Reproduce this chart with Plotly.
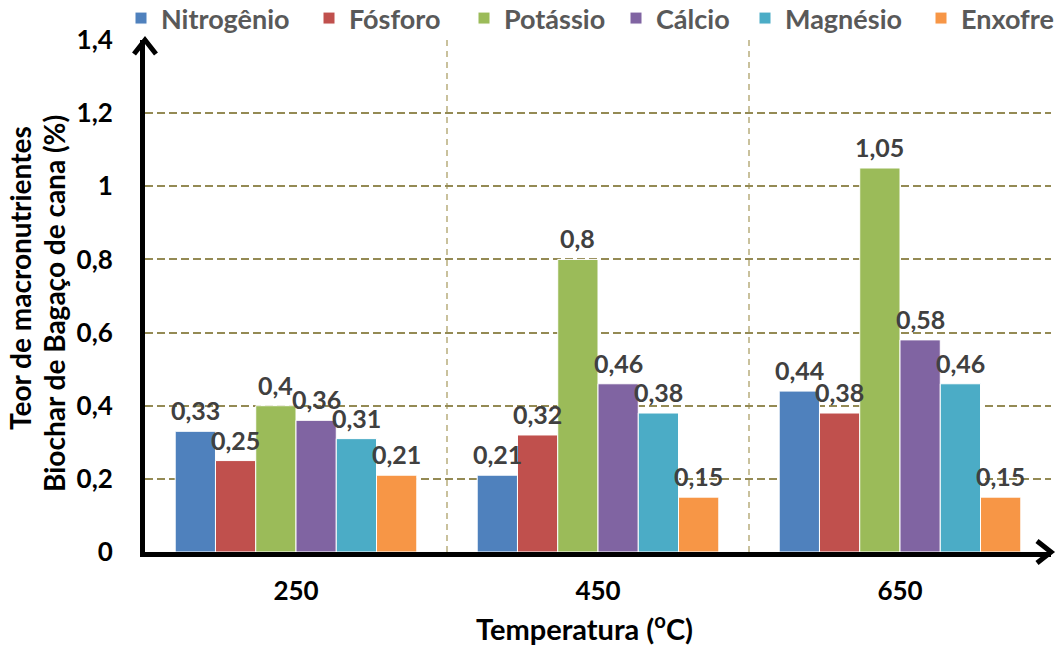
import plotly.graph_objects as go

temperaturas = ["250", "450", "650"]
nitrogenio = [0.33, 0.21, 0.44]
fosforo = [0.25, 0.32, 0.38]
potassio = [0.40, 0.80, 1.05]
calcio = [0.36, 0.46, 0.58]
magnesio = [0.31, 0.38, 0.46]
enxofre = [0.21, 0.15, 0.15]

series = [
    ("Nitrogênio", nitrogenio, "#4F81BD"),
    ("Fósforo", fosforo, "#C0504D"),
    ("Potássio", potassio, "#9BBB59"),
    ("Cálcio", calcio, "#8064A2"),
    ("Magnésio", magnesio, "#4BACC6"),
    ("Enxofre", enxofre, "#F79646"),
]

y_title_lines = ["Teor de macronutrientes", "Biochar de Bagaço de cana (%)"]
x_title = "Temperatura (<sup>o</sup>C)"

FONT = "Lato"
L, R, T, B = 145, 11, 40, 95
W, H = 1062, 647
PLOT_W = W - L - R
PLOT_H = H - T - B
BARGAP = 0.2

# left edge (px) of each legend swatch across the top
legend_px = [139, 327, 482, 634, 763, 939]


def rotulo(v):
    return f"{v:g}".replace(".", ",")


def px_x(px):
    return (px - L) / PLOT_W


def px_y(py):
    return (H - B - py) / PLOT_H


fig = go.Figure()
legend_layouts = {}
for i, (nome, valores, cor) in enumerate(series):
    key = "legend" if i == 0 else f"legend{i + 1}"
    fig.add_trace(go.Bar(
        name=nome,
        x=temperaturas,
        y=valores,
        legend=key,
        marker=dict(color=cor, line=dict(color="white", width=1)),
        cliponaxis=False,
    ))
    legend_layouts[key] = dict(
        orientation="h",
        x=px_x(legend_px[i] - 18),
        xanchor="left",
        y=px_y(-6),
        yanchor="top",
        font=dict(family=FONT, size=27, color="#595959", weight="bold"),
        itemwidth=30,
        bgcolor="rgba(0,0,0,0)",
    )

# Value labels above each bar, kept on top of every bar
# (category axes place annotations by category index)
cat_px = PLOT_W / len(temperaturas)
bar_px = cat_px * (1 - BARGAP) / len(series)
for i, (nome, valores, cor) in enumerate(series):
    shift = (i - (len(series) - 1) / 2) * bar_px
    for k, v in enumerate(valores):
        fig.add_annotation(
            x=k, y=v, xref="x", yref="y",
            text=rotulo(v), showarrow=False,
            xanchor="center", yanchor="bottom",
            xshift=shift, yshift=4,
            font=dict(family=FONT, size=25, color="#404040", weight="bold"),
        )

fig.update_layout(
    width=W,
    height=H,
    margin=dict(l=L, r=R, t=T, b=B, autoexpand=False),
    paper_bgcolor="white",
    plot_bgcolor="white",
    barmode="group",
    bargap=BARGAP,
    bargroupgap=0,
    separators=",.",
    font=dict(family=FONT, color="black"),
    showlegend=True,
    **legend_layouts,
    xaxis=dict(
        type="category",
        range=[-0.5, len(temperaturas) - 0.5],
        automargin=False,
        tickson="boundaries",
        showgrid=True,
        gridcolor="#C9C19C",
        gridwidth=2,
        griddash="6px,5px",
        showline=True,
        linecolor="black",
        linewidth=5,
        ticks="",
        tickfont=dict(family=FONT, size=26, color="black", weight="bold"),
        ticklabelstandoff=12,
        zeroline=False,
    ),
    yaxis=dict(
        range=[0, 1.4],
        automargin=False,
        tickvals=[0, 0.2, 0.4, 0.6, 0.8, 1.0, 1.2, 1.4],
        showgrid=True,
        gridcolor="#948A54",
        gridwidth=2,
        griddash="8px,4px",
        showline=True,
        linecolor="black",
        linewidth=5,
        ticks="",
        zeroline=False,
        tickfont=dict(family=FONT, size=26, color="black", weight="bold"),
        ticklabelstandoff=22,
    ),
)

# Two-line rotated y-axis title
for texto, cx, cy in [(y_title_lines[0], 20, 278), (y_title_lines[1], 54, 304)]:
    fig.add_annotation(
        text=texto, xref="paper", yref="paper",
        x=px_x(cx), y=px_y(cy), xanchor="center", yanchor="middle",
        textangle=-90, showarrow=False,
        font=dict(family=FONT, size=28, color="black", weight="bold"),
    )

# x-axis title
fig.add_annotation(
    text=x_title, xref="paper", yref="paper",
    x=px_x(584), y=px_y(627), xanchor="center", yanchor="middle",
    showarrow=False,
    font=dict(family=FONT, size=29, color="black", weight="bold"),
)

# Arrow heads at the ends of both axes
fig.add_shape(
    type="path", xref="paper", yref="paper",
    xsizemode="pixel", ysizemode="pixel",
    xanchor=0, yanchor=1,
    path="M -11,-14 L 0,0 L 11,-14",
    line=dict(color="black", width=5),
)
fig.add_shape(
    type="path", xref="paper", yref="paper",
    xsizemode="pixel", ysizemode="pixel",
    xanchor=1, yanchor=0,
    path="M -14,11 L 0,0 L -14,-11",
    line=dict(color="black", width=5),
)

fig.write_html("out.html")
